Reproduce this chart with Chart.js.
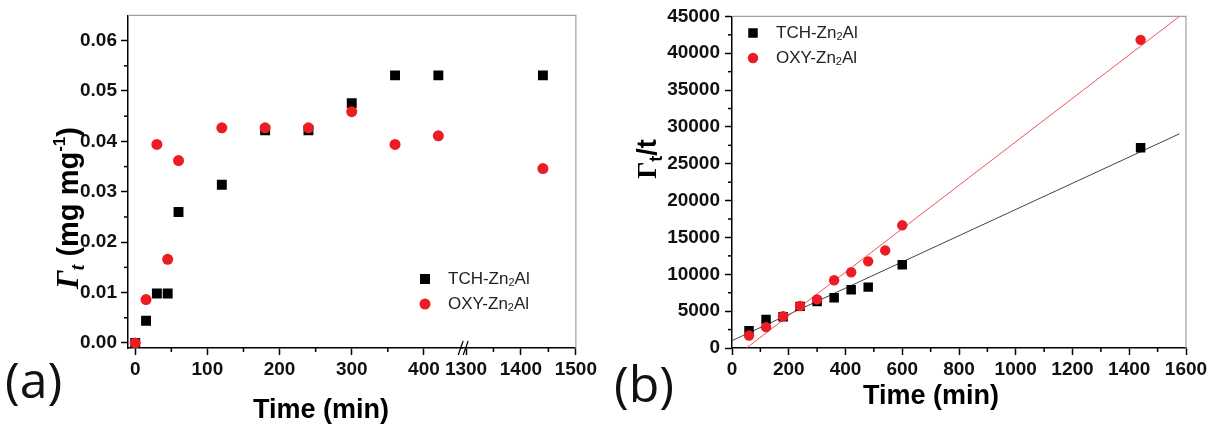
<!DOCTYPE html>
<html>
<head>
<meta charset="utf-8">
<script src="https://cdn.jsdelivr.net/npm/chart.js@4.4.1/dist/chart.umd.min.js"></script>
<style>
  body { margin: 0; background: #fff; width: 1218px; height: 426px; overflow: hidden; position: relative; }
  .panel { position: absolute; top: 0; height: 426px; }
  #pa { left: 0; width: 600px; }
  #pb { left: 600px; width: 618px; }
</style>
</head>
<body>
<div class="panel" id="pa"><canvas id="chartA" width="600" height="426"></canvas></div>
<div class="panel" id="pb"><canvas id="chartB" width="618" height="426"></canvas></div>
<script>
// (a) uptake vs time, x axis broken between 400 and 1300 min
const timeA = [0, 15, 30, 45, 60, 120, 180, 240, 300, 360, 420, 1440];
const tchA = [0.0000, 0.0044, 0.0098, 0.0098, 0.0260, 0.0314, 0.0422, 0.0422, 0.0476, 0.0531, 0.0531, 0.0531];
const oxyA = [0.0000, 0.0086, 0.0394, 0.0166, 0.0362, 0.0427, 0.0427, 0.0427, 0.0459, 0.0394, 0.0411, 0.0346];
const xTicksA1 = [0, 100, 200, 300, 400];
const xTicksA2 = [1300, 1400, 1500];
const yTicksA = [0, 0.01, 0.02, 0.03, 0.04, 0.05, 0.06];

// (b) linearised plot with fitted lines
const timeTchB = [60, 120, 180, 240, 300, 360, 420, 480, 600, 1440];
const tchB = [2340, 3860, 4250, 5650, 6300, 6820, 7900, 8260, 11310, 27190];
const timeOxyB = [60, 120, 180, 240, 300, 360, 420, 480, 540, 600, 1440];
const oxyB = [1700, 2830, 4310, 5700, 6600, 9200, 10280, 11760, 13240, 16650, 41820];
const fitTchX = [0, 1577];
const fitTchY = [1000, 29070];
const fitOxyX = [51, 1577];
const fitOxyY = [0, 45000];
const xTicksB = [0, 200, 400, 600, 800, 1000, 1200, 1400, 1600];
const yTicksB = [0, 5000, 10000, 15000, 20000, 25000, 30000, 35000, 40000, 45000];

const seriesNames = ['TCH-Zn₂Al', 'OXY-Zn₂Al'];

const SANS = '"Liberation Sans", Arial, sans-serif';
const SERIF = '"Liberation Serif", "Times New Roman", serif';
const RED = '#ec1c24';

function pts(xs, ys, keep) {
    const out = [];
    xs.forEach((x, i) => {
        if (!keep || keep(x)) out.push({ x: x, y: ys[i] });
    });
    return out;
}

function mids(arr) {
    return arr.slice(1).map((v, i) => (v + arr[i]) / 2);
}

// draw text made of pieces with their own font and vertical shift
function drawRich(ctx, parts, x, y, align) {
    let w = 0;
    parts.forEach(p => { ctx.font = p[1]; w += ctx.measureText(p[0]).width; });
    let cx = align === 'center' ? x - w / 2 : x;
    parts.forEach(p => {
        ctx.font = p[1];
        ctx.fillText(p[0], cx, y + (p[2] || 0));
        cx += ctx.measureText(p[0]).width;
    });
}

function nameParts(name, size) {
    const bits = name.split('₂');
    return [
        [bits[0], `${size}px ${SANS}`, 0],
        ['2', `${Math.round(size * 0.65)}px ${SANS}`, 4],
        [bits[1], `${size}px ${SANS}`, 0]
    ];
}

function minorTicks(ctx, scale, values) {
    ctx.save();
    ctx.strokeStyle = '#000';
    ctx.lineWidth = 1.5;
    values.forEach(v => {
        const p = scale.getPixelForValue(v);
        ctx.beginPath();
        if (scale.isHorizontal()) {
            ctx.moveTo(p, scale.top);
            ctx.lineTo(p, scale.top + 4);
        } else {
            ctx.moveTo(scale.right, p);
            ctx.lineTo(scale.right - 4, p);
        }
        ctx.stroke();
    });
    ctx.restore();
}

function frame(ctx, area) {
    ctx.save();
    ctx.strokeStyle = '#a0a0a0';
    ctx.lineWidth = 1.2;
    ctx.beginPath();
    ctx.moveTo(area.left, area.top);
    ctx.lineTo(area.right, area.top);
    ctx.lineTo(area.right, area.bottom);
    ctx.stroke();
    ctx.restore();
}

function legend(ctx, x, y, gap, styles) {
    ctx.save();
    ctx.textBaseline = 'middle';
    ctx.fillStyle = '#222';
    styles.forEach((s, i) => {
        const cy = y + i * gap;
        ctx.save();
        ctx.fillStyle = s.color;
        ctx.beginPath();
        if (s.shape === 'rect') ctx.rect(x - s.size / 2, cy - s.size / 2, s.size, s.size);
        else ctx.arc(x, cy, s.size / 2, 0, Math.PI * 2);
        ctx.fill();
        ctx.restore();
        drawRich(ctx, nameParts(seriesNames[i], 17), x + 23, cy, 'left');
    });
    ctx.restore();
}

function tickOpts(fmt, pad) {
    return {
        color: '#111',
        font: { family: SANS, size: 19, weight: 'bold' },
        padding: pad,
        maxRotation: 0,
        autoSkip: false,
        callback: fmt
    };
}

const gridOpts = { drawOnChartArea: false, drawTicks: true, tickLength: 7, tickColor: '#000', tickWidth: 1.5 };
const borderOpts = { color: '#000', width: 1.5 };

// ---------- panel (a) ----------
const decorA = {
    id: 'decorA',
    beforeDatasetsDraw(chart) {
        frame(chart.ctx, chart.chartArea);
    },
    afterDraw(chart) {
        const ctx = chart.ctx;
        const s = chart.scales;
        minorTicks(ctx, s.x1, mids(xTicksA1));
        minorTicks(ctx, s.x2, mids(xTicksA2));
        minorTicks(ctx, s.y, mids(yTicksA));

        // break mark on the time axis
        const bx = s.x1.right + 2;
        const by = s.x1.top;
        ctx.save();
        ctx.strokeStyle = '#000';
        ctx.lineWidth = 1.2;
        ctx.beginPath();
        ctx.moveTo(bx - 6, by + 7); ctx.lineTo(bx - 1, by - 7);
        ctx.moveTo(bx - 1, by + 7); ctx.lineTo(bx + 4, by - 7);
        ctx.stroke();
        ctx.restore();

        ctx.save();
        ctx.fillStyle = '#000';
        ctx.textBaseline = 'alphabetic';
        drawRich(ctx, [['Time (min)', `bold 27px ${SANS}`, 0]], 321, 418, 'center');

        ctx.translate(78, 208);
        ctx.rotate(-Math.PI / 2);
        drawRich(ctx, [
            ['Γ', `italic bold 31px ${SERIF}`, 0],
            ['t', `italic bold 20px ${SERIF}`, 6],
            [' (mg mg', `bold 29px ${SANS}`, 0],
            ['-1', `bold 17px ${SANS}`, -13],
            [')', `bold 29px ${SANS}`, 0]
        ], 0, 0, 'center');
        ctx.restore();

        ctx.save();
        ctx.fillStyle = '#111';
        ctx.textBaseline = 'middle';
        ctx.font = `50px "Open Sans", "Noto Sans", sans-serif`;
        ctx.fillText('(a)', 5, 384);
        ctx.restore();

        legend(ctx, 425, 279, 25, [
            { shape: 'rect', color: '#000', size: 10 },
            { shape: 'circle', color: RED, size: 11 }
        ]);
    }
};

new Chart(document.getElementById('chartA'), {
    type: 'scatter',
    data: {
        datasets: [
            { data: pts(timeA, oxyA, x => x < 1000), xAxisID: 'x1', pointStyle: 'circle', pointRadius: 5.5, backgroundColor: RED, borderWidth: 0, order: 1 },
            { data: pts(timeA, oxyA, x => x >= 1000), xAxisID: 'x2', pointStyle: 'circle', pointRadius: 5.5, backgroundColor: RED, borderWidth: 0, order: 1 },
            { data: pts(timeA, tchA, x => x < 1000), xAxisID: 'x1', pointStyle: 'rect', pointRadius: 7, backgroundColor: '#000', borderWidth: 0, order: 2 },
            { data: pts(timeA, tchA, x => x >= 1000), xAxisID: 'x2', pointStyle: 'rect', pointRadius: 7, backgroundColor: '#000', borderWidth: 0, order: 2 }
        ]
    },
    options: {
        responsive: false,
        animation: false,
        devicePixelRatio: 1,
        events: [],
        layout: { padding: { top: 13, right: 19, left: 0, bottom: 0 } },
        plugins: { legend: { display: false }, tooltip: { enabled: false } },
        scales: {
            x1: {
                type: 'linear', position: 'bottom', stack: 'time', stackWeight: 338,
                min: -10, max: 453,
                afterBuildTicks(scale) { scale.ticks = xTicksA1.map(v => ({ value: v })); },
                afterFit(scale) { scale.height = 78; },
                grid: gridOpts, border: borderOpts,
                ticks: tickOpts(v => String(v), 3)
            },
            x2: {
                type: 'linear', position: 'bottom', stack: 'time', stackWeight: 115,
                min: 1293, max: 1500,
                afterBuildTicks(scale) { scale.ticks = xTicksA2.map(v => ({ value: v })); },
                afterFit(scale) { scale.height = 78; },
                grid: gridOpts, border: borderOpts,
                ticks: tickOpts(v => String(v), 3)
            },
            y: {
                type: 'linear', position: 'left',
                min: -0.001, max: 0.065,
                afterBuildTicks(scale) { scale.ticks = yTicksA.map(v => ({ value: v })); },
                afterFit(scale) { scale.width = 128; },
                grid: gridOpts, border: borderOpts,
                ticks: tickOpts(v => v.toFixed(2), 4)
            }
        }
    },
    plugins: [decorA]
});

// ---------- panel (b) ----------
const decorB = {
    id: 'decorB',
    beforeDatasetsDraw(chart) {
        frame(chart.ctx, chart.chartArea);
    },
    afterDraw(chart) {
        const ctx = chart.ctx;
        const s = chart.scales;
        minorTicks(ctx, s.x, mids(xTicksB));
        minorTicks(ctx, s.y, mids(yTicksB));

        ctx.save();
        ctx.fillStyle = '#000';
        ctx.textBaseline = 'alphabetic';
        drawRich(ctx, [['Time (min)', `bold 27px ${SANS}`, 0]], 331, 404, 'center');

        ctx.translate(56, 159);
        ctx.rotate(-Math.PI / 2);
        drawRich(ctx, [
            ['Γ', `bold 27px ${SERIF}`, 0],
            ['t', `bold 18px ${SANS}`, 6],
            ['/t', `bold 27px ${SANS}`, 0]
        ], 0, 0, 'center');
        ctx.restore();

        ctx.save();
        ctx.fillStyle = '#111';
        ctx.textBaseline = 'middle';
        ctx.font = `50px "Open Sans", "Noto Sans", sans-serif`;
        ctx.fillText('(b)', 14, 388);
        ctx.restore();

        legend(ctx, 153, 33, 25, [
            { shape: 'rect', color: '#000', size: 9.5 },
            { shape: 'circle', color: RED, size: 10.5 }
        ]);
    }
};

new Chart(document.getElementById('chartB'), {
    type: 'scatter',
    data: {
        datasets: [
            { data: pts(timeOxyB, oxyB), pointStyle: 'circle', pointRadius: 5.2, backgroundColor: RED, borderWidth: 0, order: 1 },
            { data: pts(timeTchB, tchB), pointStyle: 'rect', pointRadius: 6.7, backgroundColor: '#000', borderWidth: 0, order: 2 },
            { data: pts(fitOxyX, fitOxyY), showLine: true, pointRadius: 0, borderColor: '#f2545a', borderWidth: 1, order: 3 },
            { data: pts(fitTchX, fitTchY), showLine: true, pointRadius: 0, borderColor: '#444', borderWidth: 1, order: 3 }
        ]
    },
    options: {
        responsive: false,
        animation: false,
        devicePixelRatio: 1,
        events: [],
        layout: { padding: { top: 13, right: 32, left: 0, bottom: 0 } },
        plugins: { legend: { display: false }, tooltip: { enabled: false } },
        scales: {
            x: {
                type: 'linear', position: 'bottom',
                min: 0, max: 1600,
                afterBuildTicks(scale) { scale.ticks = xTicksB.map(v => ({ value: v })); },
                afterFit(scale) { scale.height = 78; },
                grid: gridOpts, border: borderOpts,
                ticks: tickOpts(v => String(v), 3)
            },
            y: {
                type: 'linear', position: 'left',
                min: 0, max: 45000,
                afterBuildTicks(scale) { scale.ticks = yTicksB.map(v => ({ value: v })); },
                afterFit(scale) { scale.width = 132; },
                grid: gridOpts, border: borderOpts,
                ticks: tickOpts(v => String(v), 5)
            }
        }
    },
    plugins: [decorB]
});
</script>
</body>
</html>
